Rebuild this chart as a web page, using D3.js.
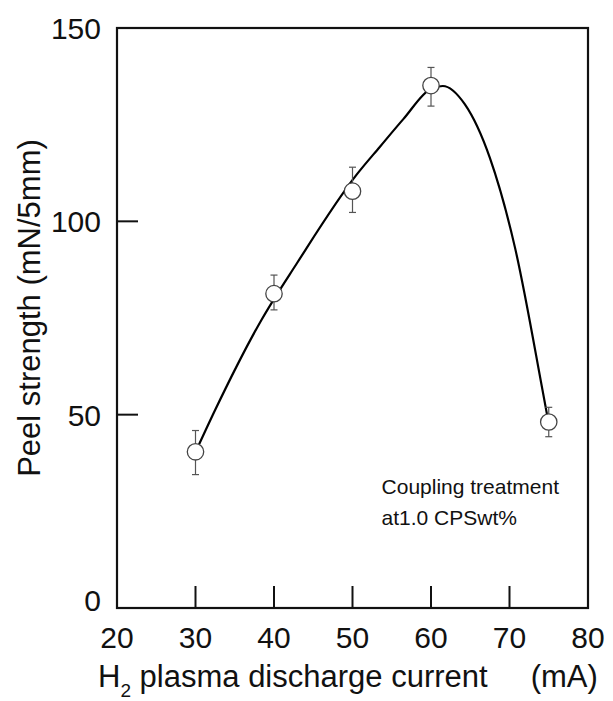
<!DOCTYPE html>
<html lang="en">
<head>
<meta charset="UTF-8">
<title>Peel strength</title>
<script src="https://cdn.jsdelivr.net/npm/d3@7"></script>
<style>
    body { margin: 0; background: #fff; }
    text { font-family: "Liberation Sans", Arial, sans-serif; fill: #111; }
    .frame { fill: none; stroke: #111; stroke-width: 2.2px; }
</style>
</head>
<body>
<script>
    var current = [30, 40, 50, 60, 75];          // mA
    var peel = [40.4, 81.3, 107.8, 135.1, 48.1]; // mN/5mm
    var errLow = [34.5, 77.1, 102.3, 129.8, 44.3];
    var errHigh = [45.9, 86.1, 114.0, 139.8, 51.9];
    // the drawn trend line (a smoothed fit, not through every centre)
    var fitX = [30, 32.5, 38.4, 42.9, 50.5, 53.5, 56.5, 60.0, 61.5, 64.3, 67.5, 70.7, 74.2, 75];
    var fitY = [40.3, 51.2, 74.5, 89.1, 112.0, 119.3, 126.5, 134.3, 135.0, 130.3, 116.4, 93.2, 56.4, 47.6];
    var xTicks = [20, 30, 40, 50, 60, 70, 80];
    var yTicks = [0, 50, 100, 150];

    var W = 613, H = 701;
    var m = {left: 117, top: 28, right: 25, bottom: 93};
    var iw = W - m.left - m.right, ih = H - m.top - m.bottom;

    var svg = d3.select("body").append("svg")
        .attr("width", W).attr("height", H);

    var x = d3.scaleLinear().domain([20, 80]).range([0, iw]);
    var y = d3.scaleLinear().domain([0, 150]).range([ih, 0]);

    var g = svg.append("g").attr("transform", "translate(" + m.left + "," + m.top + ")");

    // inner ticks (no ticks at the corners)
    g.selectAll(".xt").data(xTicks.slice(1, -1)).enter().append("line")
        .attr("x1", d => x(d)).attr("x2", d => x(d))
        .attr("y1", ih).attr("y2", ih - 22)
        .attr("stroke", "#111").attr("stroke-width", 2);
    g.selectAll(".yt").data(yTicks.slice(1, -1)).enter().append("line")
        .attr("x1", 0).attr("x2", 21)
        .attr("y1", d => y(d)).attr("y2", d => y(d))
        .attr("stroke", "#111").attr("stroke-width", 2);

    g.append("rect").attr("class", "frame")
        .attr("width", iw).attr("height", ih);

    // tick labels
    g.selectAll(".xl").data(xTicks).enter().append("text")
        .attr("x", d => x(d)).attr("y", ih + 40)
        .attr("text-anchor", "middle").attr("font-size", 30)
        .text(d => d);
    g.selectAll(".yl").data(yTicks).enter().append("text")
        .attr("x", -16).attr("y", d => d == 0 ? y(d) + 3 : y(d) + 11)
        .attr("text-anchor", "end").attr("font-size", 30)
        .text(d => d);

    // trend line
    var fit = fitX.map((v, i) => [v, fitY[i]]);
    var line = d3.line()
        .x(d => x(d[0])).y(d => y(d[1]))
        .curve(d3.curveMonotoneX);
    g.append("path").datum(fit)
        .attr("d", line)
        .attr("fill", "none").attr("stroke", "#000").attr("stroke-width", 2.2);

    // error bars
    var eb = g.selectAll(".eb").data(current).enter().append("g")
        .attr("stroke", "#555").attr("stroke-width", 1.2);
    eb.append("line")
        .attr("x1", d => x(d)).attr("x2", d => x(d))
        .attr("y1", (d, i) => y(errLow[i])).attr("y2", (d, i) => y(errHigh[i]));
    eb.append("line")
        .attr("x1", d => x(d) - 3.5).attr("x2", d => x(d) + 3.5)
        .attr("y1", (d, i) => y(errLow[i])).attr("y2", (d, i) => y(errLow[i]));
    eb.append("line")
        .attr("x1", d => x(d) - 3.5).attr("x2", d => x(d) + 3.5)
        .attr("y1", (d, i) => y(errHigh[i])).attr("y2", (d, i) => y(errHigh[i]));

    // markers
    var pts = current.map((c, i) => [c, peel[i]]);
    g.selectAll(".pt").data(pts).enter().append("circle")
        .attr("cx", d => x(d[0])).attr("cy", d => y(d[1]))
        .attr("r", 8.2)
        .attr("fill", "#fff").attr("stroke", "#444").attr("stroke-width", 1.3);

    // annotation
    var note = g.append("text").attr("font-size", 21)
        .attr("x", x(53.7)).attr("y", y(29.5));
    note.append("tspan").text("Coupling treatment");
    note.append("tspan").attr("x", x(53.7)).attr("dy", 31).text("at1.0 CPSwt%");

    // axis titles
    svg.append("text")
        .attr("transform", "translate(40," + (m.top + 280) + ") rotate(-90)")
        .attr("text-anchor", "middle").attr("font-size", 31)
        .text("Peel strength (mN/5mm)");

    var xt = svg.append("text").attr("x", 98).attr("y", 687).attr("font-size", 31);
    xt.append("tspan").text("H");
    xt.append("tspan").attr("font-size", 19).attr("dy", 10).text("2");
    xt.append("tspan").attr("dy", -10).attr("xml:space", "preserve")
        .text(" plasma discharge current \u00a0\u00a0\u00a0\u00a0(mA)");
</script>
</body>
</html>
